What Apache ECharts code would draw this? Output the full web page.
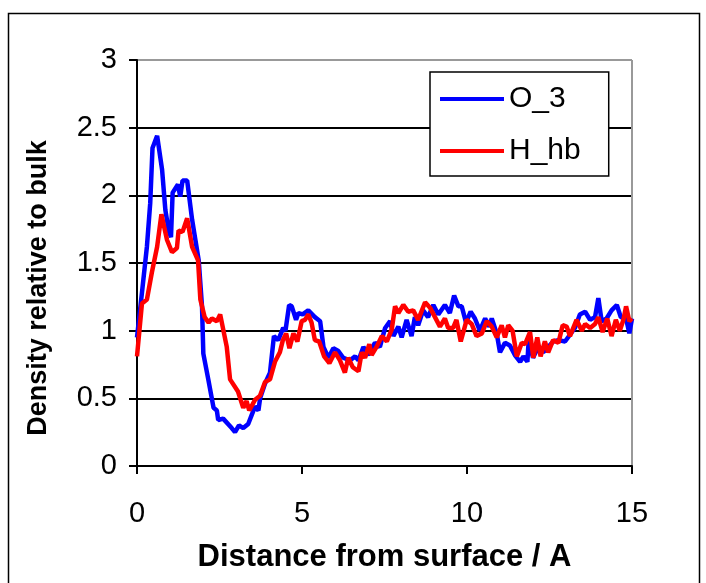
<!DOCTYPE html>
<html>
<head>
<meta charset="utf-8">
<script src="https://cdn.jsdelivr.net/npm/echarts@6/dist/echarts.min.js"></script>
<style>
html,body{margin:0;padding:0;background:#fff;}
#chart{width:706px;height:583px;}
</style>
</head>
<body>
<div id="chart"></div>
<script>
// ---- data ----
const seriesNames = ['O_3', 'H_hb'];
const xTicks = [0, 5, 10, 15];
const yTicks = [0, 0.5, 1, 1.5, 2, 2.5, 3];

const o3X = [0.0,0.15,0.30,0.40,0.47,0.61,0.76,0.86,0.96,1.03,1.08,1.24,1.31,1.38,1.52,1.67,1.87,1.97,2.01,2.16,2.32,2.42,2.46,2.61,2.87,2.97,3.09,3.22,3.37,3.48,3.58,3.68,3.73,3.88,4.03,4.15,4.28,4.43,4.50,4.61,4.69,4.82,4.89,5.02,5.19,5.39,5.55,5.65,5.80,5.95,6.10,6.25,6.45,6.61,6.71,6.86,6.91,7.01,7.21,7.36,7.52,7.67,7.77,7.92,8.02,8.17,8.32,8.42,8.52,8.67,8.82,8.98,9.13,9.33,9.48,9.61,9.74,9.84,9.97,10.11,10.24,10.39,10.55,10.68,10.75,10.90,11.00,11.15,11.30,11.45,11.61,11.71,11.83,11.87,12.00,12.16,12.31,12.46,12.61,12.77,12.97,13.12,13.27,13.42,13.58,13.73,13.88,13.98,14.08,14.23,14.38,14.54,14.66,14.82,14.92,15.00];
const o3Y = [0.95,1.28,1.62,1.94,2.35,2.44,2.19,1.89,1.74,1.69,2.02,2.08,1.99,2.11,2.11,1.82,1.52,1.18,0.83,0.64,0.43,0.41,0.34,0.35,0.28,0.25,0.30,0.28,0.31,0.38,0.44,0.41,0.50,0.61,0.69,0.96,0.93,1.02,1.00,1.19,1.18,1.08,1.13,1.12,1.15,1.10,1.07,0.88,0.80,0.87,0.85,0.80,0.78,0.81,0.78,0.88,0.87,0.82,0.91,0.88,1.02,1.07,0.96,1.03,0.95,1.08,0.96,1.10,1.04,1.15,1.10,1.19,1.12,1.19,1.13,1.26,1.18,1.18,1.06,1.14,1.09,1.00,1.09,1.03,1.09,0.98,0.84,0.91,0.89,0.82,0.77,0.81,0.77,0.93,0.80,0.88,0.84,0.88,0.92,0.93,0.92,0.97,1.02,1.12,1.14,1.08,1.10,1.24,1.07,1.09,1.15,1.19,1.10,1.09,0.98,1.09];

const hhbX = [0.0,0.15,0.30,0.45,0.61,0.74,0.91,1.06,1.21,1.26,1.38,1.52,1.67,1.85,1.92,2.05,2.17,2.27,2.42,2.52,2.72,2.82,3.06,3.22,3.32,3.40,3.58,3.73,3.88,4.03,4.18,4.33,4.42,4.52,4.62,4.74,4.86,4.99,5.09,5.19,5.29,5.39,5.52,5.67,5.83,6.00,6.15,6.30,6.40,6.54,6.71,6.81,6.91,7.04,7.11,7.26,7.42,7.57,7.72,7.82,7.92,8.07,8.22,8.37,8.52,8.73,8.88,9.03,9.18,9.33,9.43,9.58,9.68,9.81,9.99,10.14,10.29,10.45,10.60,10.75,10.90,11.05,11.15,11.25,11.38,11.51,11.66,11.76,11.91,12.01,12.13,12.23,12.36,12.46,12.61,12.77,12.90,13.02,13.12,13.32,13.48,13.58,13.73,13.88,13.98,14.11,14.25,14.38,14.51,14.63,14.74,14.82,14.92,15.00];
const hhbY = [0.81,1.20,1.23,1.43,1.62,1.86,1.67,1.58,1.61,1.74,1.73,1.83,1.62,1.52,1.23,1.10,1.06,1.09,1.07,1.12,0.88,0.64,0.55,0.43,0.48,0.41,0.49,0.52,0.62,0.64,0.77,0.84,0.93,0.98,0.87,0.98,0.92,1.07,1.08,1.12,1.06,0.93,0.92,0.81,0.76,0.84,0.78,0.69,0.80,0.73,0.70,0.84,0.80,0.90,0.82,0.88,0.96,0.92,1.01,1.18,1.13,1.19,1.14,1.15,1.08,1.21,1.17,1.10,1.03,1.09,1.02,1.02,1.08,0.92,1.08,1.05,0.96,0.98,1.07,1.03,0.95,1.04,0.95,1.04,1.00,0.81,0.91,0.90,0.99,0.80,0.95,0.81,0.92,0.84,0.93,0.91,1.04,1.03,0.96,1.08,1.00,1.05,1.02,1.05,1.10,0.99,1.09,0.96,1.08,1.00,1.08,1.18,1.07,1.09];

const zip = (xs, ys) => xs.map((x, i) => [x, ys[i]]);

const FONT = '"Liberation Sans", Arial, sans-serif';
const chart = echarts.init(document.getElementById('chart'), null, {renderer: 'canvas'});
chart.setOption({
  animation: false,
  backgroundColor: '#fff',
  textStyle: {fontFamily: FONT},
  graphic: [{
    type: 'rect', z: -10,
    shape: {x: 8.5, y: 13.5, width: 691, height: 620},
    style: {fill: 'none', stroke: '#000', lineWidth: 1.5}
  }],
  grid: {left: 137, right: 74, top: 60, bottom: 117, containLabel: false},
  legend: {
    orient: 'vertical',
    left: 430, top: 72,
    padding: [12, 28, 10, 10],
    backgroundColor: '#fff',
    borderColor: '#000', borderWidth: 1.5,
    itemWidth: 64, itemHeight: 14, itemGap: 22, itemTextGap: 10,
    icon: 'path://M0,5 L64,5 L64,9 L0,9 Z',
    textStyle: {fontSize: 30, lineHeight: 30, color: '#000', fontFamily: FONT},
    data: seriesNames
  },
  xAxis: {
    type: 'value', min: xTicks[0], max: xTicks[xTicks.length - 1], interval: 5,
    name: 'Distance from surface / A', nameLocation: 'middle', nameGap: 76,
    nameTextStyle: {fontSize: 31, fontWeight: 'bold', color: '#000', fontFamily: FONT},
    axisLine: {onZero: false, lineStyle: {color: '#000', width: 2}},
    axisTick: {show: true, length: 8, lineStyle: {color: '#000', width: 2}},
    axisLabel: {fontSize: 29, color: '#000', margin: 33, fontFamily: FONT},
    splitLine: {show: true, lineStyle: {color: ['rgba(0,0,0,0)', 'rgba(0,0,0,0)', 'rgba(0,0,0,0)', '#999'], width: 2}}
  },
  yAxis: {
    type: 'value', min: yTicks[0], max: yTicks[yTicks.length - 1], interval: 0.5,
    name: 'Density relative to bulk', nameLocation: 'middle', nameGap: 85,
    nameTextStyle: {fontSize: 27, fontWeight: 'bold', color: '#000', fontFamily: FONT, padding: [0, 50, 0, 0]},
    axisLine: {show: true, onZero: false, lineStyle: {color: '#000', width: 2}},
    axisTick: {show: true, length: 8, lineStyle: {color: '#000', width: 2}},
    axisLabel: {fontSize: 29, color: '#000', margin: 20, fontFamily: FONT},
    splitLine: {show: true, lineStyle: {color: ['#000', '#000', '#000', '#000', '#000', '#000', '#999'], width: 2}}
  },
  series: [
    {name: seriesNames[0], type: 'line', data: zip(o3X, o3Y), symbol: 'none',
     lineStyle: {color: '#0000FF', width: 4.5}, itemStyle: {color: '#0000FF'}, z: 3},
    {name: seriesNames[1], type: 'line', data: zip(hhbX, hhbY), symbol: 'none',
     lineStyle: {color: '#FF0000', width: 4.5}, itemStyle: {color: '#FF0000'}, z: 4}
  ]
});
</script>
</body>
</html>
